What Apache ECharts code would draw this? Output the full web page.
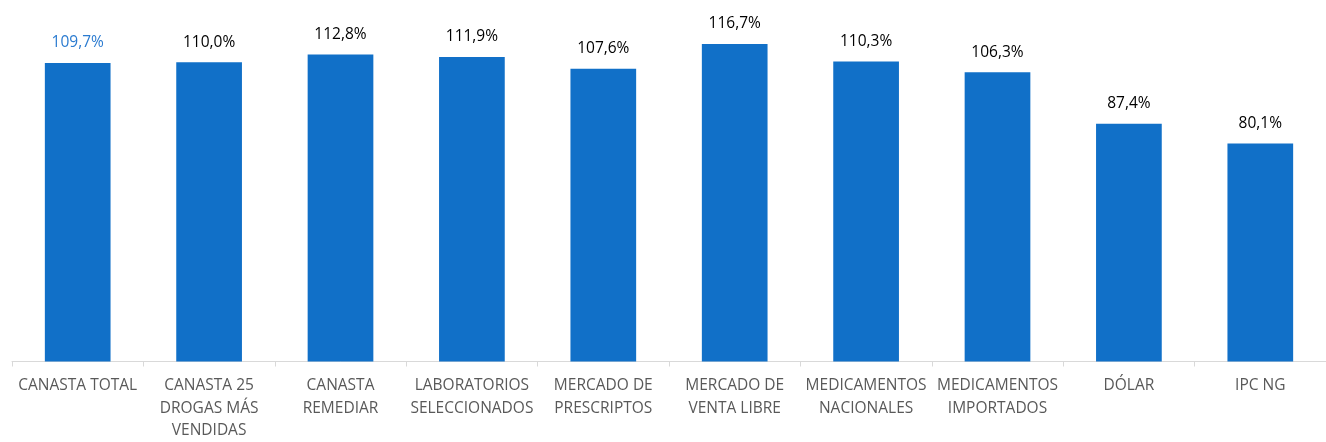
<!DOCTYPE html>
<html><head><meta charset="utf-8">
<script src="https://cdn.jsdelivr.net/npm/echarts@6/dist/echarts.min.js"></script>
<style>html,body{margin:0;padding:0;background:#fff}#c{width:1326px;height:442px}</style>
</head><body><div id="c"></div>
<script>
const categories = ["CANASTA TOTAL","CANASTA 25\nDROGAS MÁS\nVENDIDAS","CANASTA\nREMEDIAR","LABORATORIOS\nSELECCIONADOS","MERCADO DE\nPRESCRIPTOS","MERCADO DE\nVENTA LIBRE","MEDICAMENTOS\nNACIONALES","MEDICAMENTOS\nIMPORTADOS","DÓLAR","IPC NG"];
const values = [109.7,110.0,112.8,111.9,107.6,116.7,110.3,106.3,87.4,80.1];
const chart = echarts.init(document.getElementById('c'));
const font = "'Open Sans', sans-serif";
chart.setOption({
  animation:false,
  grid:{left:12,right:-6,top:35,bottom:76,containLabel:false},
  xAxis:{type:'category',data:categories,
    axisLine:{lineStyle:{color:'#d9d9d9',width:1}},
    axisTick:{show:true,length:5,lineStyle:{color:'#d9d9d9'}},
    axisLabel:{color:'#595959',fontFamily:font,fontSize:15.5,lineHeight:22.5,margin:13,interval:0}},
  yAxis:{type:'value',min:0,max:120,show:false,splitLine:{show:false}},
  series:[{type:'bar',barWidth:'50%',
    data:values.map((v,i)=>({value:v,label:{color:i===0?'#2b7bd0':'#000'}})),
    itemStyle:{color:'#1170c8'},
    label:{show:true,position:'top',distance:12,fontFamily:font,fontSize:15.5,
      formatter:p=>p.value.toFixed(1).replace('.',',')+'%'}}]
});
</script></body></html>
